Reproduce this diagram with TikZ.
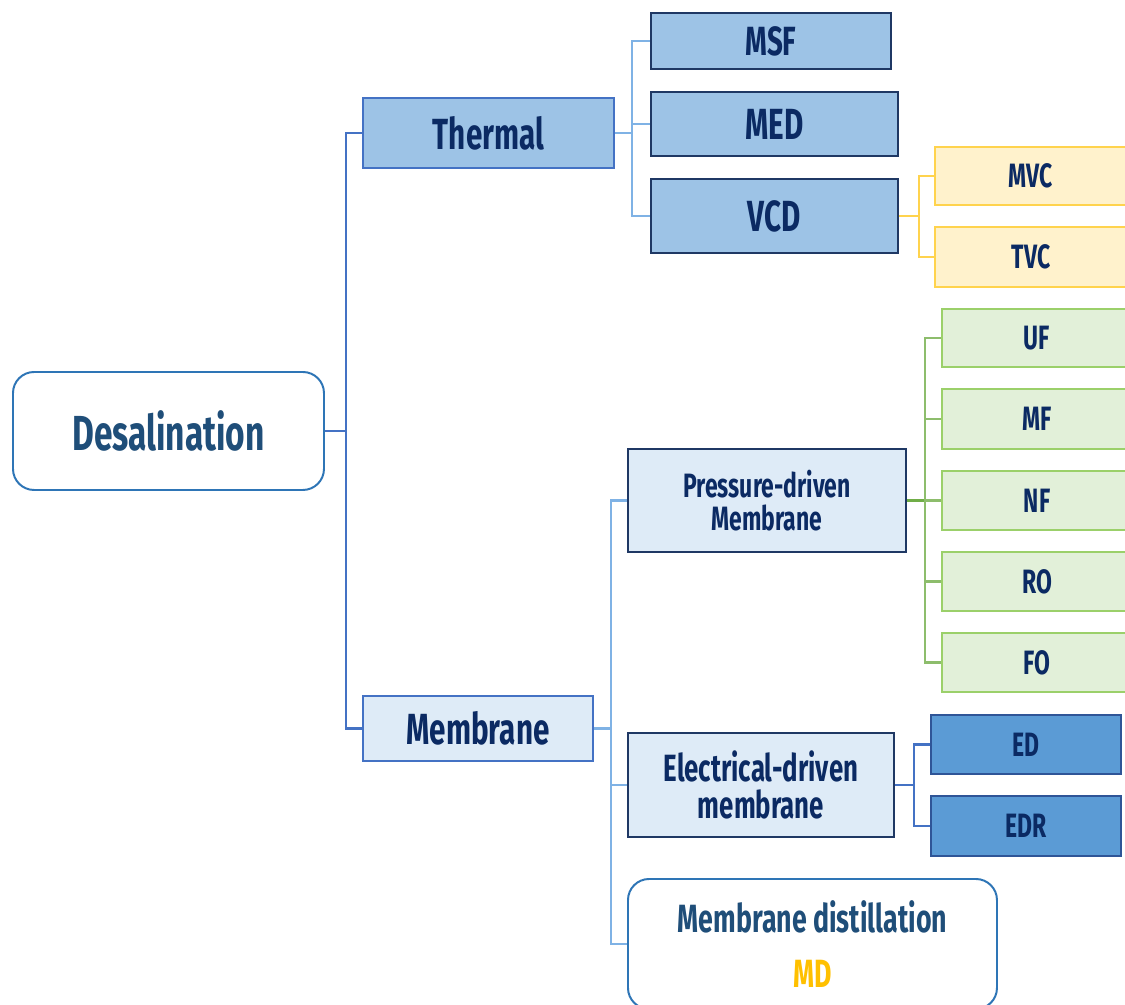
\documentclass[tikz,border=0pt]{standalone}
\usepackage{fontspec}
\newfontfamily\agency{Fira Sans}[FakeStretch=0.68]
\newdimen\pxu \pxu=0.025cm
\definecolor{deslblue}{HTML}{2E75B6}
\definecolor{deslink}{HTML}{1F4E79}
\definecolor{navyink}{HTML}{0B2A63}
\definecolor{thermfill}{HTML}{9DC3E6}
\definecolor{midblue}{HTML}{4472C4}
\definecolor{paleblue}{HTML}{DEEBF7}
\definecolor{navyline}{HTML}{1F3864}
\definecolor{creamfill}{HTML}{FFF2CC}
\definecolor{goldline}{HTML}{FFD34D}
\definecolor{mintfill}{HTML}{E2F0D9}
\definecolor{mintline}{HTML}{9BD06A}
\definecolor{greenbus}{HTML}{70AD47}
\definecolor{edfill}{HTML}{5B9BD5}
\definecolor{edline}{HTML}{2F5597}
\definecolor{lightbus}{HTML}{7FB2E5}
\definecolor{mdgold}{HTML}{FFC000}
\newcommand{\fsz}[2]{\agency\bfseries\fontsize{#1}{#2}\selectfont}
\tikzset{
  box/.style={draw,line width=1.4pt,anchor=north west,inner sep=0pt,align=center,text=navyink},
  rbox/.style={box,draw=deslblue,fill=white,rounded corners=15pt,text=deslink},
  thermbox/.style={box,draw=midblue,fill=thermfill},
  darkbox/.style={box,draw=navyline,fill=thermfill},
  palebox/.style={box,draw=navyline,fill=paleblue},
  yelbox/.style={box,draw=goldline,fill=creamfill},
  grnbox/.style={box,draw=mintline,fill=mintfill},
  edbox/.style={box,draw=edline,fill=edfill},
  bus/.style={line width=1.5pt}
}
\begin{document}
\begin{tikzpicture}[x=0.025cm,y=-0.025cm]
\useasboundingbox (0,0) rectangle (1125,1005);
\clip (0,0) rectangle (1125,1005);
% root
\node[rbox,minimum width=311\pxu,minimum height=118\pxu,font=\fsz{35}{40}] (desal) at (12,371) {Desalination};
% first level
\node[thermbox,minimum width=251\pxu,minimum height=70\pxu,font=\fsz{31}{36}] (thermal) at (362,97) {Thermal};
\node[thermbox,fill=paleblue,minimum width=230\pxu,minimum height=65\pxu,font=\fsz{31}{36}] (membrane) at (362,695) {Membrane};
% thermal branch
\node[darkbox,minimum width=240\pxu,minimum height=56\pxu,font=\fsz{29}{34}] (msf) at (650,12) {MSF};
\node[darkbox,minimum width=247\pxu,minimum height=64\pxu,font=\fsz{31}{36}] (med) at (650,91) {MED};
\node[darkbox,minimum width=247\pxu,minimum height=74\pxu,font=\fsz{31}{36}] (vcd) at (650,178) {VCD};
\node[yelbox,minimum width=200\pxu,minimum height=58\pxu,font=\fsz{24}{28}] (mvc) at (934,146) {\hspace*{-8\pxu}MVC};
\node[yelbox,minimum width=200\pxu,minimum height=60\pxu,font=\fsz{24}{28}] (tvc) at (934,226) {\hspace*{-8\pxu}TVC};
% membrane branch
\node[palebox,minimum width=278\pxu,minimum height=103\pxu,font=\fsz{24}{23}] (pressure) at (627,448) {Pressure-driven\\Membrane};
\node[palebox,minimum width=266\pxu,minimum height=104\pxu,font=\fsz{27}{26}] (electrical) at (627,732) {Electrical-driven\\membrane};
\node[rbox,minimum width=369\pxu,minimum height=130\pxu,font=\fsz{28}{39}] (distill) at (627,878) {Membrane distillation\\\textcolor{mdgold}{MD}};
\node[grnbox,minimum width=190\pxu,minimum height=58\pxu,font=\fsz{24}{28}] (uf) at (941,308) {UF};
\node[grnbox,minimum width=190\pxu,minimum height=60\pxu,font=\fsz{24}{28}] (mf) at (941,388) {MF};
\node[grnbox,minimum width=190\pxu,minimum height=59\pxu,font=\fsz{24}{28}] (nf) at (941,470) {NF};
\node[grnbox,minimum width=190\pxu,minimum height=59\pxu,font=\fsz{24}{28}] (ro) at (941,551) {RO};
\node[grnbox,minimum width=190\pxu,minimum height=59\pxu,font=\fsz{24}{28}] (fo) at (941,632) {FO};
\node[edbox,minimum width=190\pxu,minimum height=59\pxu,font=\fsz{24}{28}] (ed) at (930,714) {ED};
\node[edbox,minimum width=190\pxu,minimum height=60\pxu,font=\fsz{24}{28}] (edr) at (930,795) {EDR};
% connectors
\draw[bus,midblue] (desal.east) -- ++(21,0) coordinate (jdesal);
\draw[bus,midblue] (jdesal) |- (thermal.west);
\draw[bus,midblue] (jdesal) |- (membrane.west);
\draw[bus,lightbus] (thermal.east) -- ++(17,0) coordinate (jtherm);
\foreach \n in {msf,med,vcd} \draw[bus,lightbus] (jtherm) |- (\n.west);
\draw[bus,goldline] (vcd.east) -- ++(20,0) coordinate (jvcd);
\foreach \n in {mvc,tvc} \draw[bus,goldline] (jvcd) |- (\n.west);
\draw[bus,lightbus] (membrane.east) -- ++(17,0) coordinate (jmem);
\foreach \n in {pressure,electrical,distill} \draw[bus,lightbus] (jmem) |- (\n.west);
\draw[bus,greenbus] (pressure.east) -- ++(18,0) coordinate (jpres);
\foreach \n in {uf,mf,nf,ro,fo} \draw[bus,greenbus!80] (jpres) |- (\n.west);
\draw[bus,midblue] (electrical.east) -- ++(19,0) coordinate (jelec);
\foreach \n in {ed,edr} \draw[bus,midblue] (jelec) |- (\n.west);
\end{tikzpicture}
\end{document}
